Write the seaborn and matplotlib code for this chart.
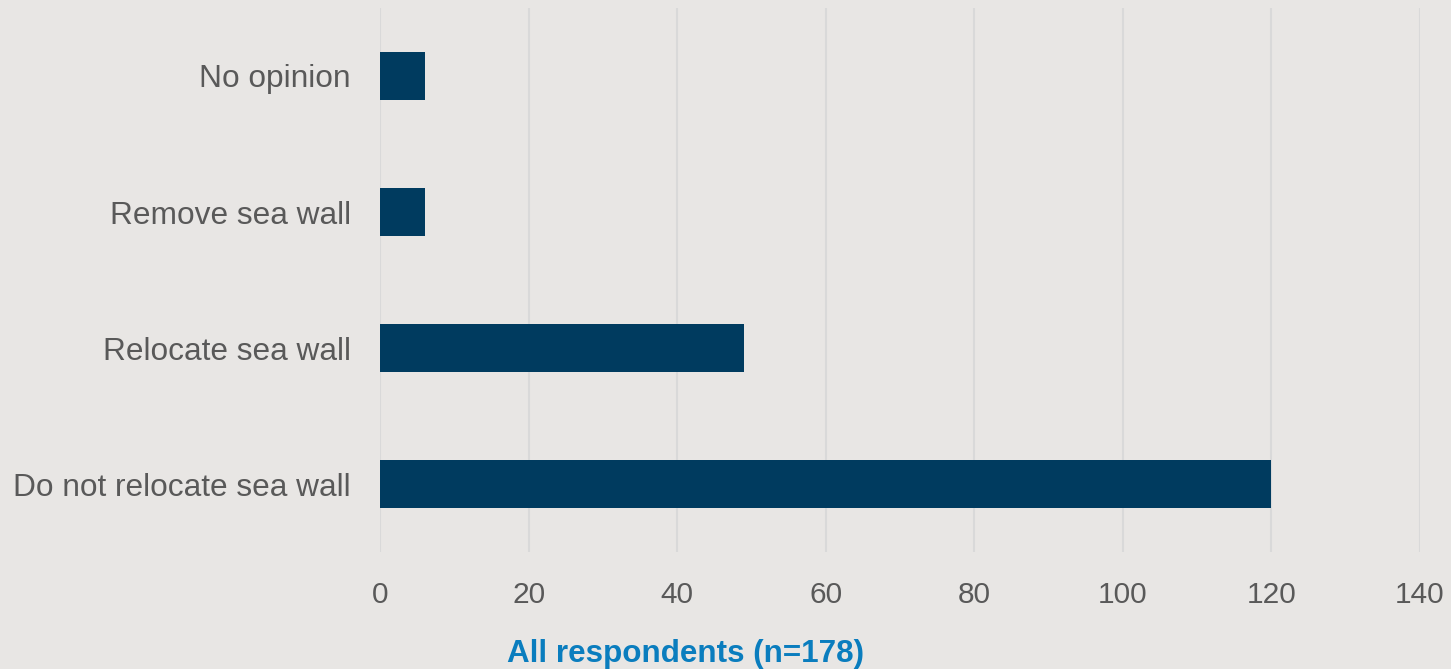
import matplotlib
matplotlib.use("Agg")
import matplotlib.pyplot as plt
import seaborn as sns
import pandas as pd

# Data
categories = ["No opinion", "Remove sea wall", "Relocate sea wall", "Do not relocate sea wall"]
counts = [6, 6, 49, 120]
x_ticks = [0, 20, 40, 60, 80, 100, 120, 140]

bg = "#E8E6E4"
bar_color = "#003B5F"
text_color = "#595959"

sns.set_theme(style="white")
plt.rcParams["font.family"] = ["Liberation Sans", "DejaVu Sans"]

df = pd.DataFrame({"category": categories, "count": counts})

fig = plt.figure(figsize=(14.51, 6.69), dpi=100, facecolor=bg)
ax = fig.add_axes([380 / 1451, 1 - 552 / 669, 1040 / 1451, 544 / 669])
ax.set_facecolor(bg)

sns.barplot(data=df, x="count", y="category", color=bar_color, width=0.35,
            saturation=1, linewidth=0, ax=ax)

ax.set_xlim(0, 140)
ax.set_xticks(x_ticks)
ax.grid(axis="x", color="#D9D9D9", linewidth=1.5)
ax.set_axisbelow(True)
for s in ax.spines.values():
    s.set_visible(False)

ax.tick_params(axis="x", length=0, pad=21, labelsize=21.5, labelcolor=text_color)
ax.tick_params(axis="y", length=0, pad=21, labelsize=22.8, labelcolor=text_color)
ax.set_xlabel("")
ax.set_ylabel("")

fig.text(686 / 1451, 1 - 654 / 669, "All respondents (n=178)", ha="center", va="center",
         fontsize=22.6, fontweight="bold", color="#0A7DBE")

fig.savefig("out.png", dpi=100, facecolor=bg)
